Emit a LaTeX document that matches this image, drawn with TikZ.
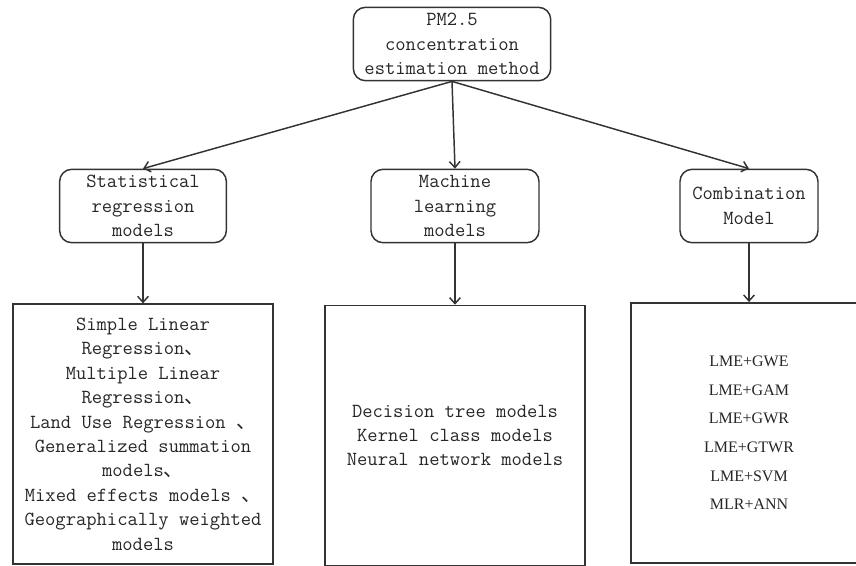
\documentclass[tikz,border=0pt]{standalone}
\usepackage{fontspec}
\newfontfamily\cjk{Noto Sans CJK SC}
\newfontfamily\timesfont{Liberation Serif}
\newcommand{\dun}{{\cjk 、}}
\usetikzlibrary{positioning,arrows.meta}

\begin{document}
\begin{tikzpicture}[x=0.75pt,y=-0.75pt,line width=1.1pt,
                >={Straight Barb[length=4.5pt,width=8pt]},
                round/.style={draw=black!80,rounded corners=9pt,align=center,inner sep=0pt,
                              minimum height=55pt,text=black!85,font=\ttfamily\fontsize{15}{18.3}\selectfont},
                leaf/.style={draw=black!80,align=center,inner sep=0pt,minimum width=195pt,
                             minimum height=195pt,text=black!85,font=\ttfamily\fontsize{15}{18.3}\selectfont}]
                \useasboundingbox (0,0) rectangle (856,565);
                \clip (0,0) rectangle (856,565);
                \node[round,minimum width=148pt] (pm) at (452,44) {PM2.5\\concentration\\estimation method};
                \node[round,minimum width=125pt] (srm) at (143,206) {Statistical\\regression\\models};
                \node[round,minimum width=126pt] (mlm) at (455,206) {Machine\\learning\\models};
                \node[round,minimum width=103.5pt] (cm) at (749,206) {Combination\\Model};
                \node[leaf,below=45pt of srm] (srmlist) {Simple Linear\\Regression\dun\\Multiple Linear\\Regression\dun\\Land Use Regression \dun\\Generalized summation\\models\dun\\Mixed effects models \dun\\Geographically weighted\\models};
                \node[leaf,below=46pt of mlm] (mlmlist) {Decision tree models\\Kernel class models\\Neural network models};
                \node[leaf,minimum width=177pt,below=44pt of cm,font=\timesfont\fontsize{12}{21.5}\selectfont] (cmlist) {LME+GWE\\LME+GAM\\LME+GWR\\LME+GTWR\\LME+SVM\\MLR+ANN};
                \draw[->,black!80] (pm.south) -- (srm.north);
                \draw[->,black!80] (pm.south) -- (mlm.north);
                \draw[->,black!80] (pm.south) -- (cm.north);
                \draw[->,black!80] (srm) -- (srmlist);
                \draw[->,black!80] (mlm) -- (mlmlist);
                \draw[->,black!80] (cm) -- (cmlist);
            \end{tikzpicture}
\end{document}
